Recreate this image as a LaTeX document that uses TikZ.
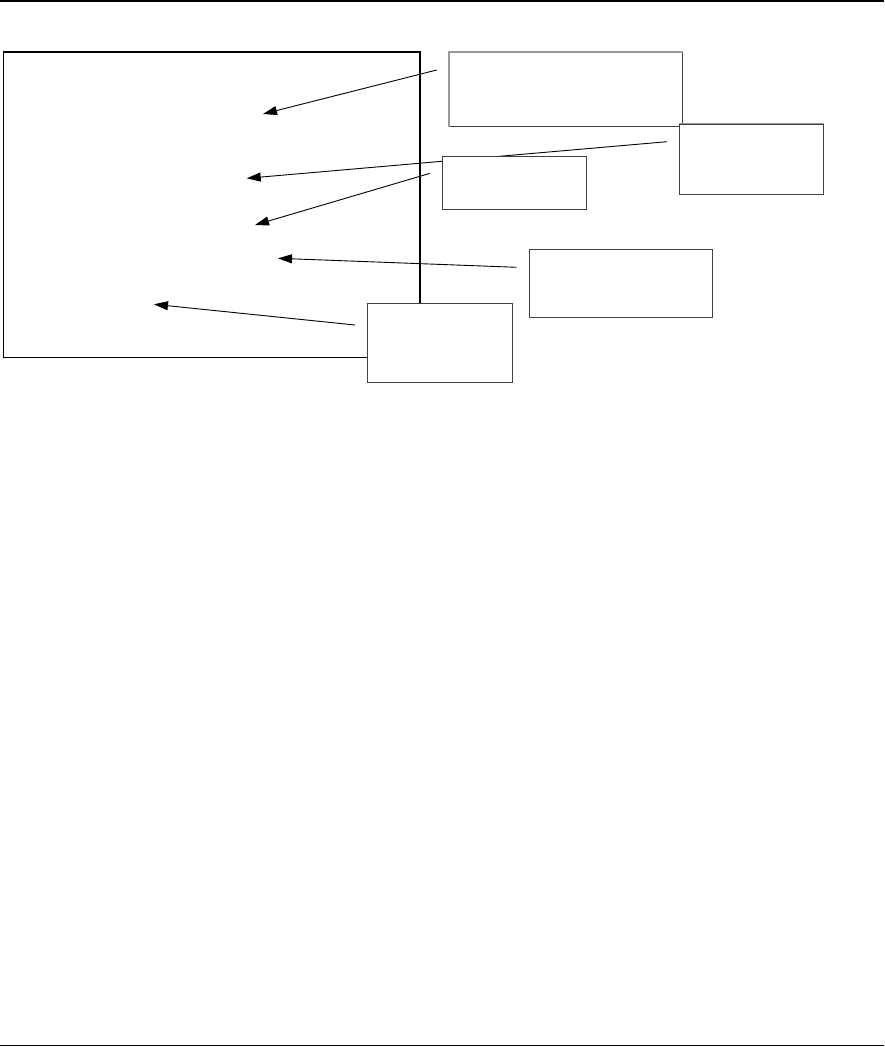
\documentclass[tikz,border=0pt]{standalone}
\usetikzlibrary{arrows.meta}
\begin{document}
\begin{tikzpicture}[x=1pt,y=-1pt,
  callout/.style={draw=black!75, line width=0.9pt, fill=white, inner sep=0pt, anchor=north west},
  pointer/.style={line width=0.9pt, -{Triangle[length=14pt,width=9pt]}},
  rule/.style={line width=1.4pt}]
\useasboundingbox (0,0) rectangle (884,1047);
% header and footer rules
\coordinate (hl) at (0,1); \coordinate (hr) at (884,1);
\coordinate (fl) at (0,1045.5); \coordinate (fr) at (884,1045.5);
\draw[rule] (hl) -- (hr);
\draw[rule] (fl) -- (fr);
% main frame
\node[inner sep=0pt, anchor=north west, minimum width=417pt, minimum height=305pt] (frame) at (3,52) {};
\draw[line width=1pt] (frame.north west) -- (frame.south west) -- (frame.south east);
\draw[line width=2pt] (frame.north west) -- (frame.north east) -- (frame.south east);
% pointer coordinates
\coordinate (s1) at (436.7,70);   \coordinate (t1) at (263,114);
\coordinate (s2) at (667,141.7);  \coordinate (t2) at (246.7,178.3);
\coordinate (s3) at (430,173.3);  \coordinate (t3) at (255,225);
\coordinate (s4) at (516.7,267.3);\coordinate (t4) at (278,258.3);
\coordinate (s5) at (355,325);    \coordinate (t5) at (154,304.3);
\draw[pointer] (s1) -- (t1);
\draw[pointer] (s2) -- (t2);
\draw[pointer] (s3) -- (t3);
\draw[pointer] (s4) -- (t4);
\draw[pointer] (s5) -- (t5);
% callout boxes
\node[callout, minimum width=232.7pt, minimum height=74pt] (boxA) at (449,52) {};
\draw[black!40, line width=1.2pt] (boxA.south west) -- (boxA.north west) -- (boxA.north east);
\node[callout, minimum width=144pt, minimum height=70.3pt] (boxB) at (679,123.7) {};
\draw[black!40, line width=1pt] (boxB.north west) -- (boxB.north east);
\node[callout, minimum width=144pt, minimum height=53.5pt] (boxC) at (441.7,155.7) {};
\node[callout, minimum width=183pt, minimum height=68pt] (boxD) at (529,249) {};
\node[callout, minimum width=145pt, minimum height=79pt] (boxE) at (366.7,303) {};
\end{tikzpicture}
\end{document}
